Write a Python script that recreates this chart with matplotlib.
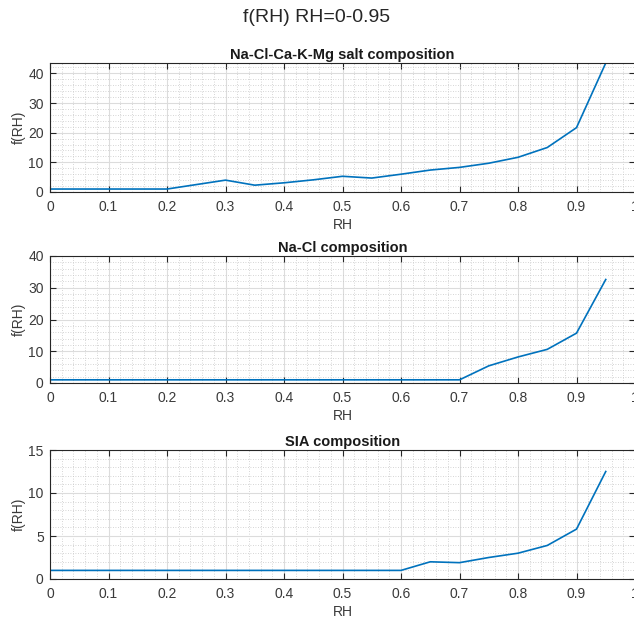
import numpy as np
import matplotlib
matplotlib.use("Agg")
import matplotlib.pyplot as plt
from matplotlib.ticker import MultipleLocator

plt.rcParams['font.family'] = ['Liberation Sans', 'DejaVu Sans']

# relative humidity steps
rh = [0.0, 0.05, 0.1, 0.15, 0.2, 0.25, 0.3, 0.35, 0.4, 0.45,
      0.5, 0.55, 0.6, 0.65, 0.7, 0.75, 0.8, 0.85, 0.9, 0.95]

# growth factor f(RH) for each composition
f_salt = [1, 1, 1, 1, 1, 2.5, 4.0, 2.3, 3.1, 4.1,
          5.3, 4.7, 6.0, 7.4, 8.3, 9.7, 11.7, 15.0, 21.7, 43.5]
f_nacl = [1, 1, 1, 1, 1, 1, 1, 1, 1, 1,
          1, 1, 1, 1, 1, 5.4, 8.2, 10.6, 15.7, 32.6]
f_sia = [1, 1, 1, 1, 1, 1, 1, 1, 1, 1,
         1, 1, 1, 2.0, 1.9, 2.5, 3.0, 3.9, 5.8, 12.5]

titles = ['Na-Cl-Ca-K-Mg salt composition', 'Na-Cl composition', 'SIA composition']
series = [f_salt, f_nacl, f_sia]
ytops = [max(f_salt), 40, 15]
ysteps = [10, 10, 5]

W, H = 634, 623
fig = plt.figure(figsize=(W / 100, H / 100), dpi=100)
fig.suptitle('f(RH) RH=0-0.95', y=1 - 18 / H, fontsize=14, va='center', color='#262626')

# axes boxes in pixels: (top, bottom)
boxes = [(63, 192), (256, 383), (450, 579)]
left, right = 50, 635

tc = '#262626'
lc = '#3a3a3a'
for (top, bot), title, y, ytop, ystep in zip(boxes, titles, series, ytops, ysteps):
    ax = fig.add_axes([left / W, 1 - bot / H, (right - left) / W, (bot - top) / H])
    ax.plot(rh, y, color='#0072BD', lw=1.2)
    ax.set_xlim(0, 1)
    ax.set_ylim(0, ytop)
    ax.xaxis.set_major_locator(MultipleLocator(0.1))
    ax.xaxis.set_minor_locator(MultipleLocator(0.02))
    ax.yaxis.set_major_locator(MultipleLocator(ystep))
    ax.yaxis.set_minor_locator(MultipleLocator(ystep / 5))
    ax.xaxis.set_major_formatter(plt.FuncFormatter(lambda v, p: ('%g' % round(v, 2))))
    ax.grid(which='major', color='#dcdcdc', lw=0.8)
    ax.grid(which='minor', color='#c8c8c8', lw=0.6, ls=(0, (1, 2)))
    ax.set_axisbelow(True)
    ax.tick_params(which='major', direction='in', length=4, width=0.8,
                   top=True, right=True, labelsize=10, colors=tc, labelcolor=lc)
    ax.tick_params(axis='x', pad=6)
    ax.tick_params(axis='y', pad=4.5)
    ax.tick_params(which='minor', length=0)
    for s in ax.spines.values():
        s.set_color(tc)
        s.set_linewidth(0.8)
    ax.set_title(title, fontsize=10.5, fontweight='bold', color='#1a1a1a', pad=3)
    ax.set_xlabel('RH', fontsize=10, color=lc, labelpad=3)
    ax.set_ylabel('f(RH)', fontsize=10, color=lc, labelpad=2)

fig.savefig('out.png', dpi=100)
